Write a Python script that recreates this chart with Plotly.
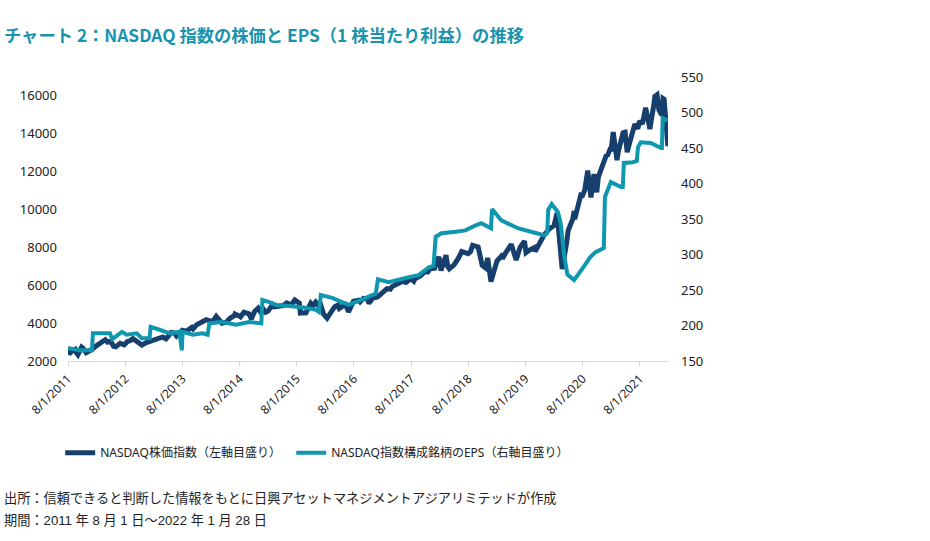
import plotly.graph_objects as go

# ---- data ----
price_dates = [
    "2011-08-01","2011-08-08","2011-08-31","2011-09-16","2011-09-22","2011-10-03","2011-10-27","2011-11-04",
    "2011-11-25","2011-12-19","2011-12-30",
    "2012-01-31","2012-02-29","2012-03-26","2012-04-10","2012-04-30","2012-05-18","2012-06-01","2012-06-29",
    "2012-07-25","2012-08-15","2012-08-31","2012-09-19","2012-10-15","2012-10-31","2012-11-15","2012-12-14",
    "2012-12-31",
    "2013-01-31","2013-02-20","2013-02-28","2013-03-28","2013-04-04","2013-04-18","2013-05-21","2013-06-10",
    "2013-06-24","2013-07-31","2013-08-27","2013-08-30","2013-09-30","2013-10-08","2013-10-31","2013-11-15",
    "2013-11-29","2013-12-31",
    "2014-01-31","2014-02-03","2014-03-05","2014-04-11","2014-05-08","2014-05-30","2014-06-30","2014-07-03",
    "2014-07-31","2014-08-07","2014-08-29","2014-09-30","2014-10-15","2014-11-05","2014-11-28","2014-12-16",
    "2014-12-31",
    "2015-01-15","2015-01-30","2015-02-27","2015-03-10","2015-03-31","2015-04-30","2015-05-06","2015-05-29",
    "2015-06-29","2015-06-30","2015-07-20","2015-08-18","2015-08-24","2015-09-29","2015-10-30","2015-11-13",
    "2015-11-30","2015-12-14","2015-12-31",
    "2016-01-20","2016-02-11","2016-03-31","2016-04-20","2016-04-29","2016-05-31","2016-06-08","2016-06-27",
    "2016-07-29","2016-08-31","2016-09-09","2016-09-30","2016-10-25","2016-11-04","2016-11-30","2016-12-30",
    "2017-01-31","2017-02-28","2017-03-21","2017-03-31","2017-04-28","2017-05-31","2017-06-09","2017-06-29",
    "2017-07-31","2017-08-18","2017-08-31","2017-09-06","2017-09-29","2017-10-31","2017-11-15","2017-11-30",
    "2017-12-29",
    "2018-01-26","2018-02-08","2018-03-12","2018-03-23","2018-04-02","2018-04-30","2018-05-03","2018-05-31",
    "2018-06-20","2018-07-31","2018-08-15","2018-08-29","2018-09-28","2018-10-03","2018-10-29","2018-11-20",
    "2018-11-30","2018-12-03","2018-12-24",
    "2019-01-31","2019-02-28","2019-03-08","2019-03-29","2019-04-30","2019-05-03","2019-06-03","2019-06-28",
    "2019-07-26","2019-08-05","2019-08-26","2019-09-30","2019-10-02","2019-10-31","2019-11-29","2019-12-31",
    "2020-01-27","2020-01-31","2020-02-19","2020-03-09","2020-03-13","2020-03-23","2020-04-21","2020-04-30",
    "2020-05-29","2020-06-08","2020-06-11","2020-06-30","2020-07-20","2020-07-31","2020-08-14","2020-09-02",
    "2020-09-23","2020-10-12","2020-10-30","2020-11-09","2020-11-27","2020-11-30","2020-12-31",
    "2021-01-05","2021-01-27","2021-01-29","2021-02-12","2021-03-08","2021-03-18","2021-04-16","2021-04-29",
    "2021-05-12","2021-06-15","2021-06-30","2021-07-19","2021-07-30","2021-08-18","2021-08-31","2021-09-07",
    "2021-09-30","2021-10-04","2021-10-29","2021-11-05","2021-11-19","2021-11-26","2021-11-30","2021-12-01",
    "2021-12-20","2021-12-27",
    "2022-01-03","2022-01-13","2022-01-27","2022-01-28",
]
price_values = [
    2745,2357,2579,2622,2455,2335,2738,2686,
    2441,2523,2605,
    2814,2966,3123,2991,3046,2778,2747,2935,
    2855,3030,3067,3182,3044,2977,2846,2971,
    3020,
    3142,3164,3160,3268,3225,3166,3502,3473,
    3321,3626,3579,3590,3771,3695,3920,3985,
    4060,4177,
    4104,3997,4358,3999,4051,4243,4408,4485,
    4370,4334,4580,4493,4215,4620,4792,4547,
    4736,
    4570,4635,4964,4859,4901,4941,4919,5070,
    4958,4987,5219,5059,4526,4543,5054,4927,
    5109,4952,5007,
    4472,4266,4870,4948,4775,4948,4974,4594,
    5162,5213,5126,5312,5283,5046,5324,5383,
    5615,5825,5793,5912,6048,6199,6208,6145,
    6348,6216,6429,6394,6496,6728,6706,6874,
    6903,
    7505,6777,7588,6993,6870,7066,7089,7442,
    7781,7672,7775,8109,8046,8025,7050,6909,
    7331,7442,6193,
    7282,7533,7408,7729,8095,8164,7333,8006,
    8330,7726,7853,7999,7785,8292,8665,8973,
    9139,9151,9817,7950,7875,6860,8263,8890,
    9490,9924,9492,10059,10767,10745,11020,12056,
    10633,11876,10912,11713,12206,12199,12888,
    12819,13270,13071,14095,12609,13116,14052,14082,
    13032,14073,14504,14275,14673,14526,15259,15374,
    14448,14255,15498,15971,16057,15491,15538,15254,
    14980,15871,
    15832,14806,13352,13770,
]

eps_dates = [
    "2011-08-01","2011-10-16","2012-01-01","2012-01-07","2012-04-25","2012-05-10","2012-07-10","2012-08-10",
    "2012-10-13","2012-11-14","2013-01-03","2013-01-10","2013-03-08","2013-05-12","2013-07-13","2013-07-28",
    "2013-08-02","2013-10-06","2013-12-07","2014-01-09","2014-01-20","2014-04-13","2014-07-10","2014-10-01",
    "2014-12-18","2014-12-25","2015-02-07","2015-03-23","2015-07-03","2015-09-28","2015-12-02","2015-12-21",
    "2016-01-02","2016-03-15","2016-05-16","2016-06-29","2016-08-12","2016-11-04","2016-12-18","2017-01-01",
    "2017-03-11","2017-07-17","2017-09-18","2017-11-22","2017-12-22","2018-01-05","2018-02-11","2018-05-12",
    "2018-07-13","2018-09-17","2018-10-23","2018-12-24","2018-12-31","2019-02-28","2019-06-14","2019-09-06",
    "2019-12-03","2019-12-18","2019-12-25","2020-01-16","2020-02-24","2020-03-13","2020-04-04","2020-04-25",
    "2020-06-07","2020-08-15","2020-09-17","2020-10-20","2020-12-14","2020-12-21","2021-01-28","2021-04-03",
    "2021-04-14","2021-04-21","2021-06-18","2021-07-13","2021-07-20","2021-08-07","2021-10-10","2021-12-14",
    "2021-12-20","2021-12-25","2022-01-28",
]
eps_values = [
    168,165,165,189,189,181,191,187,
    189,182,182,198,194,189,191,165,
    191,187,189,187,203,205,201,205,
    203,236,233,229,227,225,222,219,
    243,239,233,229,233,240,245,265,
    261,268,271,282,284,325,330,332,
    334,341,344,337,364,348,337,332,
    327,330,363,371,360,345,300,272,
    264,285,296,303,309,381,402,395,
    395,429,430,432,451,458,457,450,
    450,492,489,
]

tick_dates = ["2011-08-01","2012-08-01","2013-08-01","2014-08-01","2015-08-01","2016-08-01",
              "2017-08-01","2018-08-01","2019-08-01","2020-08-01","2021-08-01"]
tick_labels = ["8/1/2011","8/1/2012","8/1/2013","8/1/2014","8/1/2015","8/1/2016",
               "8/1/2017","8/1/2018","8/1/2019","8/1/2020","8/1/2021"]
left_ticks = [2000,4000,6000,8000,10000,12000,14000,16000]
left_labels = ["2000","4000","6000","8000","10000","12000","14000","16000"]
right_ticks = [150,200,250,300,350,400,450,500,550]
right_labels = ["150","200","250","300","350","400","450","500","550"]

series_names = ["NASDAQ株価指数（左軸目盛り）", "NASDAQ指数構成銘柄のEPS（右軸目盛り）"]

DARK = "#173F6D"
TEAL = "#0E97AF"
TXT = "#222222"
JP = "Noto Sans CJK JP"

fig = go.Figure()
fig.add_trace(go.Scatter(x=price_dates, y=price_values, mode="lines", name=series_names[0],
                         line=dict(color=DARK, width=5), yaxis="y", legend="legend"))
fig.add_trace(go.Scatter(x=eps_dates, y=eps_values, mode="lines", name=series_names[1],
                         line=dict(color=TEAL, width=4), yaxis="y2", legend="legend2"))

legend_common = dict(orientation="h", yanchor="middle", xanchor="left",
                     font=dict(family="Noto Sans, " + JP, size=12, color=TXT),
                     itemwidth=30, bgcolor="rgba(0,0,0,0)")

fig.update_layout(
    width=930, height=541,
    paper_bgcolor="white", plot_bgcolor="white",
    margin=dict(l=68, r=262, t=77, b=180),
    font=dict(family="Noto Sans, " + JP, size=12, color=TXT),
    xaxis=dict(type="date", range=["2011-08-01", "2022-01-28"],
               tickvals=tick_dates, ticktext=tick_labels, tickangle=-45,
               showgrid=False, showline=True, linecolor="#D9D9D9", linewidth=1,
               ticks="outside", ticklen=5, tickcolor="#D9D9D9",
               tickfont=dict(size=12, color=TXT)),
    yaxis=dict(range=[2000, 17000], tickvals=left_ticks, ticktext=left_labels,
               showgrid=False, zeroline=False, ticklabelstandoff=10,
               showline=False, ticks="", tickfont=dict(size=13, color=TXT)),
    yaxis2=dict(range=[150, 550], tickvals=right_ticks, ticktext=right_labels,
                overlaying="y", side="right", ticklabelstandoff=12,
                showgrid=False, zeroline=False, showline=False, ticks="",
                tickfont=dict(size=13, color=TXT)),
    showlegend=True,
    legend=dict(x=-0.013, y=-0.323, **legend_common),
    legend2=dict(x=0.372, y=-0.323, **legend_common),
)

fig.add_annotation(text="<b>チャート 2：NASDAQ 指数の株価と EPS（1 株当たり利益）の推移</b>",
                   xref="paper", yref="paper", x=-0.11, y=1.148, xanchor="left", yanchor="middle",
                   showarrow=False, font=dict(family=JP, size=17.3, color="#1A93AE"))
fig.add_annotation(text="出所：信頼できると判断した情報をもとに日興アセットマネジメントアジアリミテッドが作成",
                   xref="paper", yref="paper", x=-0.11, y=-0.484, xanchor="left", yanchor="middle",
                   showarrow=False, font=dict(family="Liberation Sans, " + JP, size=13.2, color=TXT))
fig.add_annotation(text="期間：2011 年 8 月 1 日～2022 年 1 月 28 日",
                   xref="paper", yref="paper", x=-0.11, y=-0.561, xanchor="left", yanchor="middle",
                   showarrow=False, font=dict(family="Liberation Sans, " + JP, size=13.2, color=TXT))

fig.write_html("out.html", config={"displayModeBar": False},
               post_script="document.body.style.margin='0px';")
